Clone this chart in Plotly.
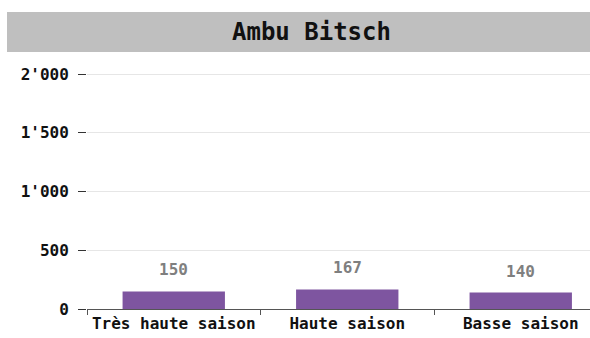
import plotly.graph_objects as go

# Occupancy per season
categories = ["Très haute saison", "Haute saison", "Basse saison"]
values = [150, 167, 140]
y_tickvals = [0, 500, 1000, 1500, 2000]
y_ticktext = ["0", "500", "1'000", "1'500", "2'000"]
title_text = "Ambu Bitsch"

FONT = "DejaVu Sans Mono"
W, H = 590, 338
L, R, T, B = 87, 0, 62, 29
plot_w = W - L - R
cat_px = 173.5  # pixel width of one category slot

fig = go.Figure()
fig.add_trace(go.Bar(
    x=categories,
    y=values,
    width=0.59,
    marker=dict(color="#7e55a0", line=dict(width=0)),
    hoverinfo="skip",
))

# value labels above each bar
for c, v in zip(categories, values):
    fig.add_annotation(
        x=c, y=v, text=f"{v}", showarrow=False,
        yanchor="bottom", yshift=10,
        font=dict(family=FONT, size=16, color="#7f7f7f", weight="bold"),
    )

# grey title band
band_x0 = (7 - L) / plot_w
plot_h = H - T - B
band_y0 = (H - B - 52) / plot_h
band_y1 = (H - B - 12) / plot_h
fig.add_shape(
    type="rect", xref="paper", yref="paper",
    x0=band_x0, x1=1.1, y0=band_y0, y1=band_y1,
    fillcolor="#bfbfbf", line=dict(width=0), layer="below",
)
fig.add_annotation(
    xref="paper", yref="paper",
    x=(311 - L) / plot_w, y=(band_y0 + band_y1) / 2,
    text=f"<b>{title_text}</b>", showarrow=False,
    xanchor="center", yanchor="middle",
    font=dict(family=FONT, size=24, color="#111111"),
)

fig.update_layout(
    width=W, height=H,
    margin=dict(l=L, r=R, t=T, b=B, pad=0),
    paper_bgcolor="white", plot_bgcolor="white",
    showlegend=False,
    bargap=0.4,
)
fig.update_xaxes(
    range=[-0.5, -0.5 + plot_w / cat_px],
    showgrid=False,
    showline=True, linecolor="#555555", linewidth=1,
    ticks="outside", tickson="boundaries", ticklen=5, tickcolor="#555555",
    tickfont=dict(family=FONT, size=16, color="#111111", weight="bold"),
    fixedrange=True,
)
fig.update_yaxes(
    range=[0, plot_h / (235 / 2000)],
    tickvals=y_tickvals, ticktext=y_ticktext,
    showgrid=True, gridcolor="#e6e6e6", gridwidth=1,
    zeroline=False, showline=False,
    ticks="outside", ticklen=8, tickcolor="#333333",
    ticklabelstandoff=6,
    tickfont=dict(family=FONT, size=16, color="#111111", weight="bold"),
    fixedrange=True,
)

fig.write_html("out.html", config={"displayModeBar": False})
